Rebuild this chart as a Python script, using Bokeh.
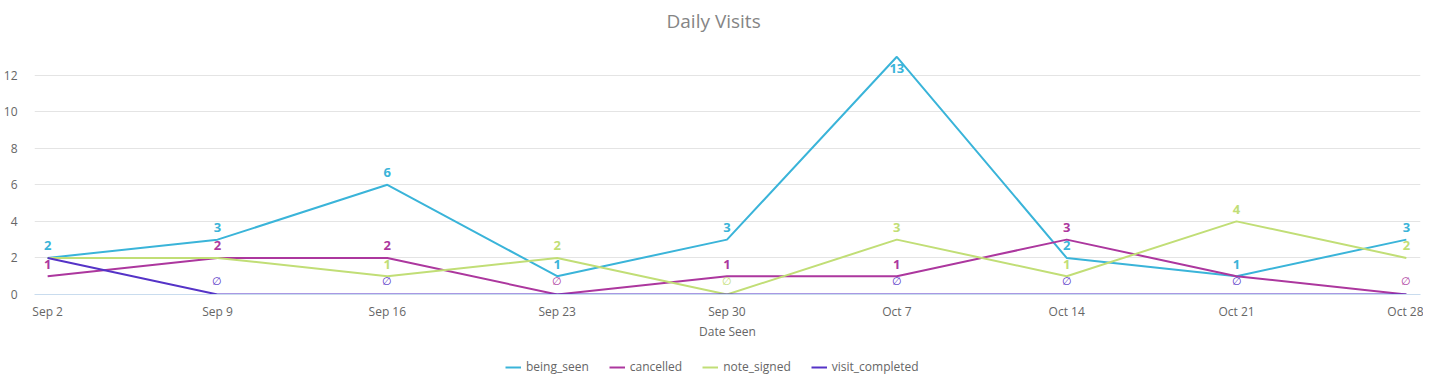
from datetime import datetime, timedelta
from bokeh.plotting import figure
from bokeh.layouts import column
from bokeh.models import (ColumnDataSource, Range1d, FixedTicker, DatetimeTickFormatter,
                          Legend, LegendItem)
from bokeh.core.properties import value
from bokeh.embed import file_html
from bokeh.resources import INLINE

# ---- data ----
DATES = ["2019-09-02", "2019-09-09", "2019-09-16", "2019-09-23", "2019-09-30",
         "2019-10-07", "2019-10-14", "2019-10-21", "2019-10-28"]
SERIES = ["being_seen", "cancelled", "note_signed", "visit_completed"]
being_seen = [2, 3, 6, 1, 3, 13, 2, 1, 3]
cancelled = [1, 2, 2, 0, 1, 1, 3, 1, 0]
note_signed = [2, 2, 1, 2, 0, 3, 1, 4, 2]
visit_completed = [2, 0, 0, 0, 0, 0, 0, 0, 0]
VALUES = [being_seen, cancelled, note_signed, visit_completed]
Y_TICKS = [0, 2, 4, 6, 8, 10, 12]
COLORS = ["#3AB4D9", "#AC379E", "#C1DE76", "#5533C7"]

FONT = "Open Sans"
W = 1423
dates = [datetime.strptime(d, "%Y-%m-%d") for d in DATES]

p = figure(width=W, height=342, output_backend="svg", toolbar_location=None,
           x_axis_type="datetime",
           x_range=Range1d(dates[0] - timedelta(hours=13), dates[-1] + timedelta(hours=14)),
           y_range=Range1d(0, 14.0),
           min_border_left=26, min_border_right=3, min_border_top=0, min_border_bottom=45)
p.outline_line_color = None
p.background_fill_color = "white"
p.border_fill_color = "white"

p.title.text = "Daily Visits"
p.title.align = "left"
p.title.offset = 632
p.title.text_font = FONT
p.title.text_font_size = "19px"
p.title.text_font_style = "normal"
p.title.text_color = "#858585"
p.title.standoff = 10

# axes
p.xaxis.ticker = FixedTicker(ticks=[d.timestamp() * 1000 for d in dates])
p.xaxis.formatter = DatetimeTickFormatter(days="%b %-d", months="%b %-d")
p.xaxis.axis_line_color = "#C9DCEE"
p.xaxis.major_tick_line_color = None
p.xaxis.minor_tick_line_color = None
p.xaxis.major_label_text_font = FONT
p.xaxis.major_label_text_font_size = "12px"
p.xaxis.major_label_text_color = "#666666"
p.xaxis.major_label_standoff = 2
p.xaxis.axis_label = "Date Seen"
p.xaxis.axis_label_text_font = FONT
p.xaxis.axis_label_text_font_size = "12px"
p.xaxis.axis_label_text_font_style = "normal"
p.xaxis.axis_label_text_color = "#666666"
p.xaxis.axis_label_standoff = 0

p.yaxis.ticker = FixedTicker(ticks=Y_TICKS)
p.yaxis.axis_line_color = None
p.yaxis.major_tick_line_color = None
p.yaxis.minor_tick_line_color = None
p.yaxis.major_label_text_font = FONT
p.yaxis.major_label_text_font_size = "12px"
p.yaxis.major_label_text_color = "#666666"
p.yaxis.major_label_standoff = 11

p.xgrid.grid_line_color = None
p.ygrid.grid_line_color = "#E4E4E4"
p.ygrid.grid_line_width = 1

# lines
for name, vals, col in zip(SERIES, VALUES, COLORS):
    src = ColumnDataSource(dict(x=dates, y=vals))
    p.line("x", "y", source=src, line_color=col, line_width=2)

# value labels with simple collision avoidance (skip duplicate values per date)
y_top = p.y_range.end
for i, d in enumerate(dates):
    placed = set()
    for vals, col in zip(VALUES, COLORS):
        v = vals[i]
        if v in placed:
            continue
        placed.add(v)
        if v == 0:
            p.text(x=[d], y=[v], text=["\u2205"], text_color=col, text_font=value(FONT),
                   text_font_size="11px", text_align="center", text_baseline="middle",
                   y_offset=-14)
        else:
            below = v + 1.3 > y_top
            p.text(x=[d], y=[v], text=[str(v)], text_color=col, text_font=value(FONT),
                   text_font_size="13px", text_font_style="bold", text_align="center",
                   text_baseline="middle", y_offset=12 if below else -12)

# legend in its own strip below the chart
lg = figure(width=W, height=33, output_backend="svg", toolbar_location=None,
            x_range=Range1d(0, 1), y_range=Range1d(0, 1),
            x_axis_location=None, y_axis_location=None,
            min_border=0, min_border_left=0, min_border_right=0,
            min_border_top=0, min_border_bottom=0)
lg.grid.visible = False
lg.outline_line_color = None
items = []
nan = float("nan")
for name, col in zip(SERIES, COLORS):
    r = lg.line(x=[nan], y=[nan], line_color=col, line_width=2)
    items.append(LegendItem(label=name, renderers=[r]))
legend = Legend(items=items, orientation="horizontal", location=(471, 0),
                label_text_font=FONT, label_text_font_size="12px", label_text_color="#666666",
                glyph_width=16, glyph_height=12, label_standoff=5, spacing=20,
                border_line_color=None, background_fill_alpha=0, padding=3, margin=0)
lg.add_layout(legend, "center")

layout = column(p, lg, spacing=0)
open("out.html", "w").write(file_html(layout, INLINE))
